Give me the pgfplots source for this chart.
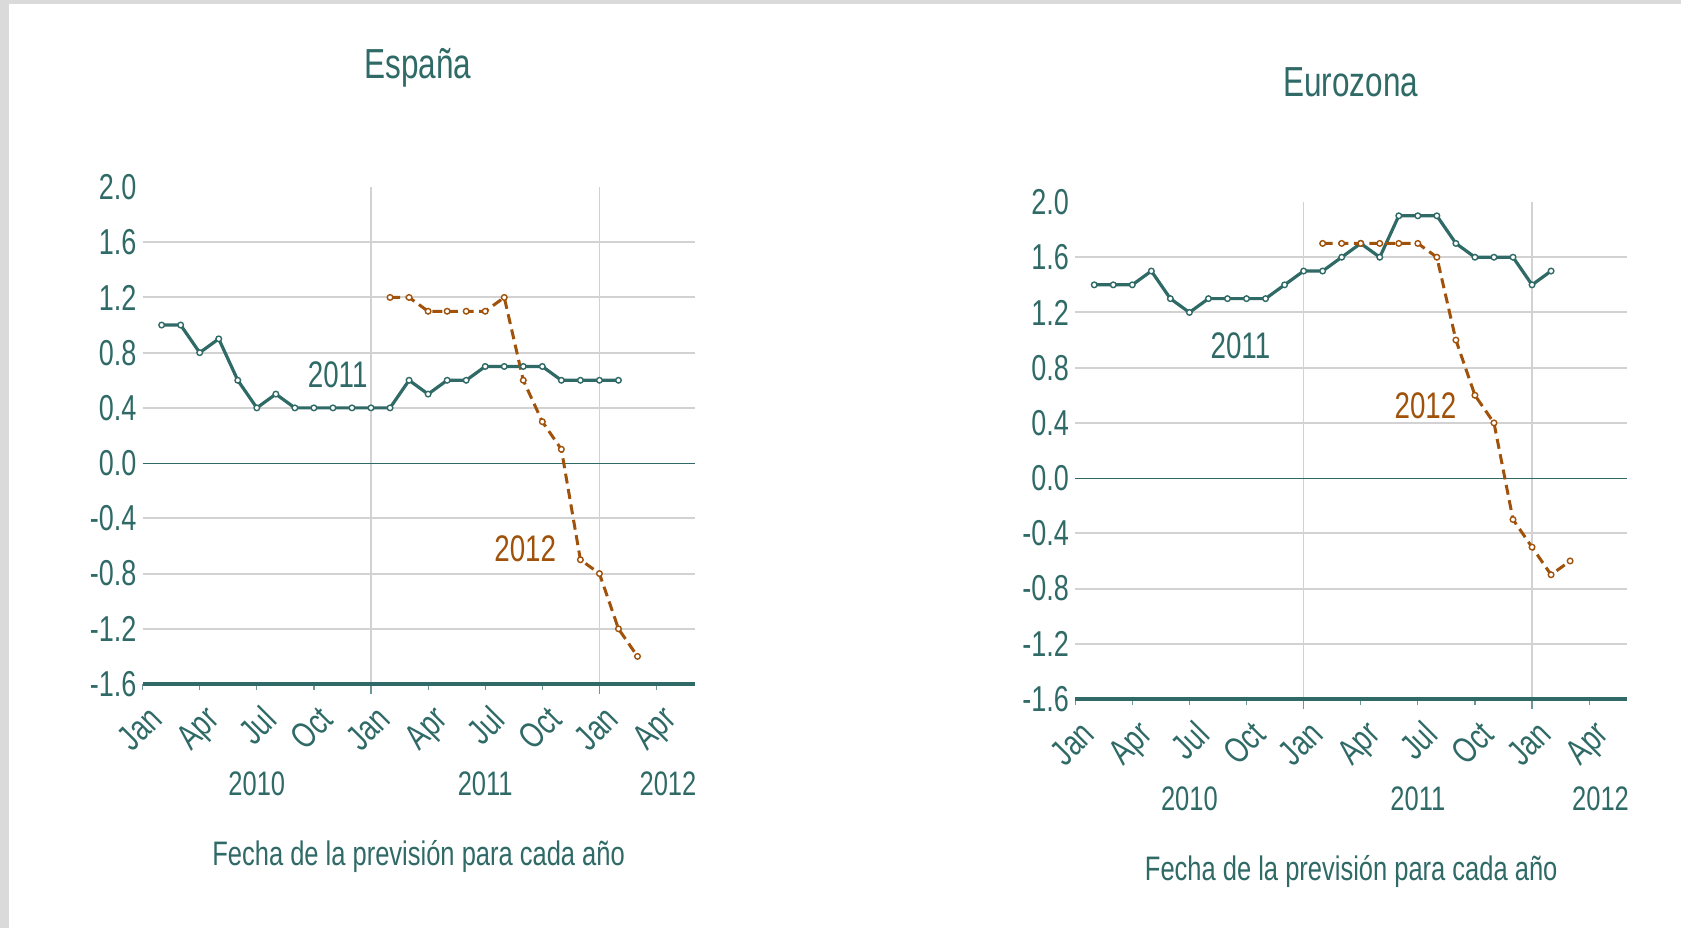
\documentclass[border=0pt]{standalone}
\usepackage{fontspec}
\setmainfont{Liberation Sans}[FakeStretch=0.75]
\usepackage{pgfplots}
\pgfplotsset{compat=1.18}
\definecolor{tealc}{HTML}{2F6A67}
\definecolor{orangec}{HTML}{A0520B}
\definecolor{gridc}{HTML}{D2D2D2}
\definecolor{framec}{HTML}{DADADA}
\newcommand{\tf}{\fontsize{18}{20}\selectfont}
\newcommand{\yf}{\fontsize{17}{20}\selectfont}
\pgfplotsset{
 mystyle/.style={
  anchor=south west, scale only axis, width=276pt, height=248.5pt,
  xmin=0, xmax=29, ymin=-1.6, ymax=2.0,
  axis line style={draw=none},
  clip=false,
  xtick pos=bottom, ytick pos=left,
  xtick={0,3,6,9,12,15,18,21,24,27},
  xticklabels={Jan,Apr,Jul,Oct,Jan,Apr,Jul,Oct,Jan,Apr},
  xticklabel style={rotate=45, anchor=north east, font=\tf, text=tealc, inner sep=1pt, yshift=-5pt, xshift=-2.5pt},
  x tick style={draw=tealc!70, line width=0.6pt},
  major tick length=3pt,
  tick align=outside,
  ytick={-1.6,-1.2,-0.8,-0.4,0,0.4,0.8,1.2,1.6,2.0},
  yticklabels={{-1.6},{-1.2},{-0.8},{-0.4},{0.0},{0.4},{0.8},{1.2},{1.6},{2.0}},
  y tick style={draw=none},
  yticklabel style={font=\tf, text=tealc, xshift=3.4pt},
  extra x ticks={12,24}, extra x tick labels={},
  extra x tick style={grid=major, major grid style={draw=gridc, line width=0.8pt}, major tick length=5pt},
  extra y ticks={-1.2,-0.8,-0.4,0.4,0.8,1.2,1.6}, extra y tick labels={},
  extra y tick style={grid=major, major grid style={draw=gridc, line width=1pt}, tick style={draw=none}},
 },
 s11/.style={tealc, line width=1.6pt, mark=*, mark size=1.4pt, mark options={fill=white, draw=tealc, line width=0.7pt, solid}},
 s12/.style={orangec, line width=1.5pt, dash pattern=on 5pt off 2.8pt, mark=*, mark size=1.4pt, mark options={fill=white, draw=orangec, line width=0.7pt, solid}},
}
\begin{document}
\begin{tikzpicture}
\path[use as bounding box] (0,0) rectangle (840.5pt,464pt);
\fill[framec] (0,0) rectangle (840.5pt,464pt);
\fill[white] (4.3pt,0) rectangle (840.5pt,461.9pt);
\node[font=\fontsize{21}{24}\selectfont, text=tealc] at (209pt,430pt) {España};
\node[font=\fontsize{21}{24}\selectfont, text=tealc] at (675.4pt,423pt) {Eurozona};

\begin{axis}[mystyle, at={(71.3pt,122pt)}]
\draw[tealc, line width=0.6pt] (axis cs:0,0) -- (axis cs:29,0);
\draw[tealc, line width=1.6pt] (axis cs:0,-1.6) -- (axis cs:29,-1.6);
\addplot[s11] coordinates {(1,1.0)(2,1.0)(3,0.8)(4,0.9)(5,0.6)(6,0.4)(7,0.5)(8,0.4)(9,0.4)(10,0.4)(11,0.4)(12,0.4)(13,0.4)(14,0.6)(15,0.5)(16,0.6)(17,0.6)(18,0.7)(19,0.7)(20,0.7)(21,0.7)(22,0.6)(23,0.6)(24,0.6)(25,0.6)};
\addplot[s12] coordinates {(13,1.2)(14,1.2)(15,1.1)(16,1.1)(17,1.1)(18,1.1)(19,1.2)(20,0.6)(21,0.3)(22,0.1)(23,-0.7)(24,-0.8)(25,-1.2)(26,-1.4)};
\node[font=\fontsize{18.5}{20}\selectfont, text=tealc] at (axis cs:10.25,0.64) {2011};
\node[font=\fontsize{18.5}{20}\selectfont, text=orangec] at (axis cs:20.1,-0.62) {2012};
\node[font=\yf, text=tealc, yshift=-49.8pt] at (axis cs:6,-1.6) {2010};
\node[font=\yf, text=tealc, yshift=-49.8pt] at (axis cs:18,-1.6) {2011};
\node[font=\yf, text=tealc, yshift=-49.8pt] at (axis cs:27.6,-1.6) {2012};
\node[font=\yf, text=tealc, yshift=-86.5pt] at (axis cs:14.5,-1.6) {Fecha de la previsión para cada año};
\end{axis}

\begin{axis}[mystyle, at={(537.6pt,114.5pt)}]
\draw[tealc, line width=0.6pt] (axis cs:0,0) -- (axis cs:29,0);
\draw[tealc, line width=1.6pt] (axis cs:0,-1.6) -- (axis cs:29,-1.6);
\addplot[s11] coordinates {(1,1.4)(2,1.4)(3,1.4)(4,1.5)(5,1.3)(6,1.2)(7,1.3)(8,1.3)(9,1.3)(10,1.3)(11,1.4)(12,1.5)(13,1.5)(14,1.6)(15,1.7)(16,1.6)(17,1.9)(18,1.9)(19,1.9)(20,1.7)(21,1.6)(22,1.6)(23,1.6)(24,1.4)(25,1.5)};
\addplot[s12] coordinates {(13,1.7)(14,1.7)(15,1.7)(16,1.7)(17,1.7)(18,1.7)(19,1.6)(20,1.0)(21,0.6)(22,0.4)(23,-0.3)(24,-0.5)(25,-0.7)(26,-0.6)};
\node[font=\fontsize{18.5}{20}\selectfont, text=tealc] at (axis cs:8.68,0.96) {2011};
\node[font=\fontsize{18.5}{20}\selectfont, text=orangec] at (axis cs:18.4,0.525) {2012};
\node[font=\yf, text=tealc, yshift=-49.8pt] at (axis cs:6,-1.6) {2010};
\node[font=\yf, text=tealc, yshift=-49.8pt] at (axis cs:18,-1.6) {2011};
\node[font=\yf, text=tealc, yshift=-49.8pt] at (axis cs:27.6,-1.6) {2012};
\node[font=\yf, text=tealc, yshift=-86.5pt] at (axis cs:14.5,-1.6) {Fecha de la previsión para cada año};
\end{axis}
\end{tikzpicture}
\end{document}
